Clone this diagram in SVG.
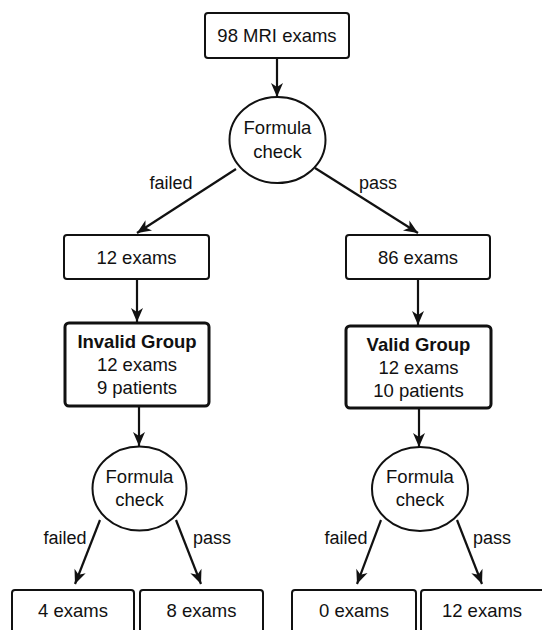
<svg xmlns="http://www.w3.org/2000/svg" width="542" height="630" viewBox="0 0 542 630">
<style>
text{font-family:"Liberation Sans",Arial,sans-serif;font-size:18.5px;fill:#111;text-anchor:middle}
.b{font-weight:bold}
.box{fill:#fff;stroke:#111;stroke-width:2}
.grp{fill:#fff;stroke:#111;stroke-width:3}
.circ{fill:#fff;stroke:#111;stroke-width:2}
.edge{stroke:#111;stroke-width:2.2;fill:none;marker-end:url(#ah)}
.lbl{font-size:18px}
</style>
<defs>
<marker id="ah" markerUnits="userSpaceOnUse" markerWidth="16" markerHeight="14" viewBox="-1 -7 16 14" refX="14" refY="0" orient="auto">
<path d="M0,-6 L14,0 L0,6 L4,0 z" fill="#111"/>
</marker>
</defs>
<rect width="542" height="630" fill="#fff"/>
<g id="connectors">
<line class="edge" x1="277" y1="58" x2="277" y2="97"/>
<line class="edge" x1="236" y1="169" x2="137" y2="233"/>
<line class="edge" x1="315" y1="168" x2="418" y2="233"/>
<line class="edge" x1="137" y1="280" x2="137" y2="322"/>
<line class="edge" x1="418" y1="280" x2="418" y2="325"/>
<line class="edge" x1="139" y1="406" x2="139" y2="446"/>
<line class="edge" x1="419" y1="408" x2="419" y2="447"/>
<line class="edge" x1="100" y1="520" x2="75" y2="584"/>
<line class="edge" x1="176" y1="520" x2="201" y2="584"/>
<line class="edge" x1="381" y1="520" x2="357" y2="584"/>
<line class="edge" x1="457" y1="520" x2="482" y2="584"/>
<text class="lbl" x="171" y="189">failed</text>
<text class="lbl" x="378" y="189">pass</text>
<text class="lbl" x="65" y="544">failed</text>
<text class="lbl" x="212" y="544">pass</text>
<text class="lbl" x="346" y="544">failed</text>
<text class="lbl" x="492" y="544">pass</text>
</g>
<g id="n-top">
<rect class="box" x="205" y="13" width="144" height="45" rx="3"/>
<text x="277" y="42">98 MRI exams</text>
</g>
<g id="n-check1">
<ellipse class="circ" cx="277.5" cy="140" rx="48" ry="43"/>
<text x="277.5" y="134">Formula</text>
<text x="277.5" y="158">check</text>
</g>
<g id="n-12">
<rect class="box" x="64" y="235" width="145" height="44" rx="3"/>
<text x="136.5" y="264">12 exams</text>
</g>
<g id="n-86">
<rect class="box" x="346" y="235" width="144" height="44" rx="3"/>
<text x="418" y="264">86 exams</text>
</g>
<g id="n-invalid">
<rect class="grp" x="65" y="323" width="144" height="83" rx="4"/>
<text class="b" x="137" y="348">Invalid Group</text>
<text x="137" y="371">12 exams</text>
<text x="137" y="394">9 patients</text>
</g>
<g id="n-valid">
<rect class="grp" x="346" y="326" width="145" height="82" rx="4"/>
<text class="b" x="418.5" y="351">Valid Group</text>
<text x="418.5" y="374">12 exams</text>
<text x="418.5" y="397">10 patients</text>
</g>
<g id="n-check2">
<ellipse class="circ" cx="139.5" cy="488.5" rx="47" ry="42"/>
<text x="139.5" y="483">Formula</text>
<text x="139.5" y="506">check</text>
</g>
<g id="n-check3">
<ellipse class="circ" cx="420" cy="489" rx="48" ry="42"/>
<text x="420" y="483">Formula</text>
<text x="420" y="506">check</text>
</g>
<g id="n-4">
<rect class="box" x="12" y="590" width="122" height="60" rx="3"/>
<text x="73" y="617">4 exams</text>
</g>
<g id="n-8">
<rect class="box" x="140" y="590" width="123" height="60" rx="3"/>
<text x="201.5" y="617">8 exams</text>
</g>
<g id="n-0">
<rect class="box" x="292" y="590" width="124" height="60" rx="3"/>
<text x="354" y="617">0 exams</text>
</g>
<g id="n-12b">
<rect class="box" x="421" y="590" width="124" height="60" rx="3"/>
<text x="482" y="617">12 exams</text>
</g>
</svg>
